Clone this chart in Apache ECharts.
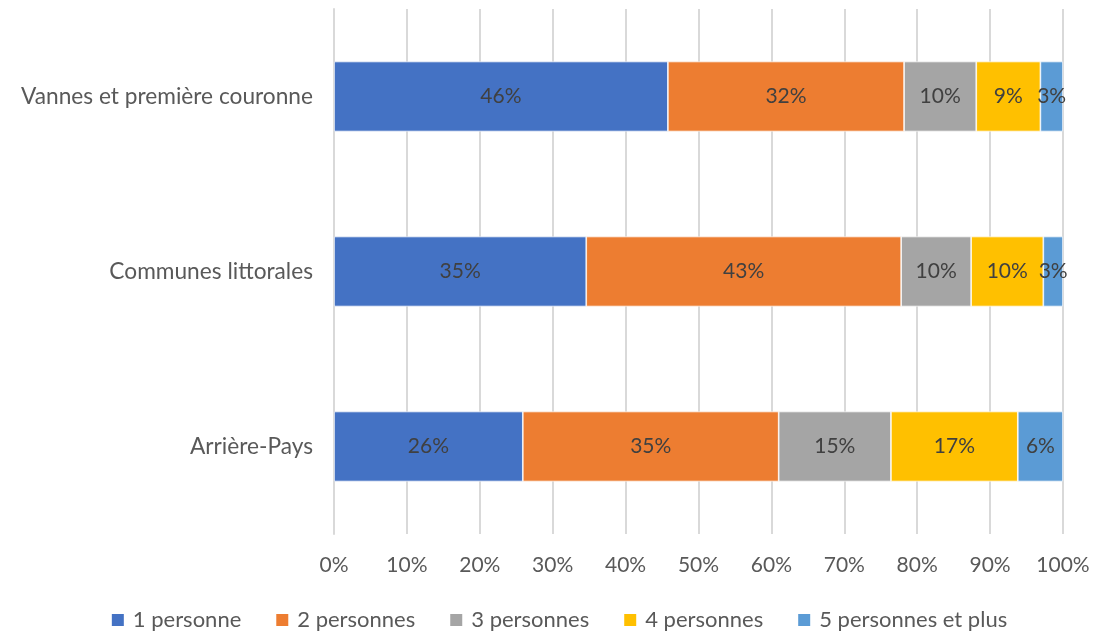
<!DOCTYPE html>
<html><head><meta charset="utf-8">
<script src="https://cdn.jsdelivr.net/npm/echarts@6/dist/echarts.min.js"></script>
<style>html,body{margin:0;padding:0;background:#fff}#c{width:1117px;height:632px}</style>
</head><body><div id="c"></div>
<script>
const categories = ['Arrière-Pays', 'Communes littorales', 'Vannes et première couronne'];
const seriesNames = ['1 personne', '2 personnes', '3 personnes', '4 personnes', '5 personnes et plus'];
const s1 = [25.9, 34.6, 45.8];
const s2 = [35.1, 43.2, 32.4];
const s3 = [15.4, 9.6, 9.9];
const s4 = [17.4, 9.9, 8.8];
const s5 = [6.2, 2.7, 3.1];
const tickValues = [0, 10, 20, 30, 40, 50, 60, 70, 80, 90, 100];
const colors = ['#4472C4', '#ED7D31', '#A5A5A5', '#FFC000', '#5B9BD5'];
const FONT = 'Lato';
const values = [s1, s2, s3, s4, s5];
const chart = echarts.init(document.getElementById('c'));
chart.setOption({
  animation: false,
  color: colors,
  textStyle: {fontFamily: FONT},
  grid: {left: 334, right: 54, top: 9, bottom: 98, containLabel: false},
  legend: {
    top: 609, left: 'center', padding: 0, itemWidth: 14, itemHeight: 14, itemGap: 33,
    icon: 'rect',
    textStyle: {fontSize: 22, color: '#595959', fontFamily: FONT, padding: [0, 0, 0, 3]},
    data: seriesNames
  },
  xAxis: {
    type: 'value', min: 0, max: 100, interval: 10,
    axisLine: {show: false}, axisTick: {show: false},
    splitLine: {lineStyle: {color: '#D9D9D9', width: 2}},
    axisLabel: {formatter: v => v + '%', fontSize: 21, color: '#595959', margin: 21, fontFamily: FONT}
  },
  yAxis: {
    type: 'category', data: categories,
    axisLine: {lineStyle: {color: '#D9D9D9', width: 2}},
    axisTick: {show: false},
    axisLabel: {fontSize: 22.7, color: '#595959', margin: 21, fontFamily: FONT}
  },
  series: seriesNames.map((n, i) => ({
    name: n, type: 'bar', stack: 'total', barWidth: '40%',
    data: values[i],
    itemStyle: {borderColor: '#fff', borderWidth: 0.7},
    label: {show: true, position: 'inside', formatter: p => Math.round(p.value) + '%',
      fontSize: 21, color: '#404040', fontFamily: FONT}
  }))
});
</script></body></html>
